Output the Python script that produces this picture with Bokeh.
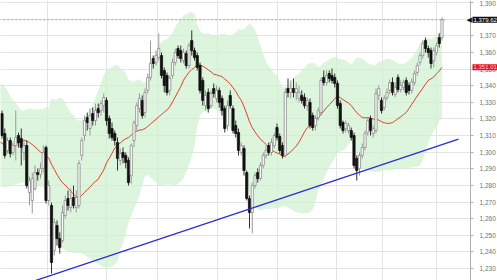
import numpy as np
import pandas as pd
from bokeh.plotting import figure
from bokeh.models import (LinearAxis, SingleIntervalTicker, FixedTicker, NumeralTickFormatter,
                          Grid, Range1d, Label, ColumnDataSource, BoxAnnotation)
from bokeh.embed import file_html
from bokeh.resources import INLINE

# ---- data -------------------------------------------------------------
# closes before the first visible bar (only used by the indicators)
warmup_close = [1326.2, 1325.0, 1331.1, 1333.5, 1328.6, 1323.8, 1326.2, 1323.8, 1307.0, 1296.2,
                1287.7, 1279.9, 1282.9, 1288.9, 1292.0, 1301.0, 1308.2, 1314.2, 1319.0, 1320.2,
                1318.4, 1301.0, 1304.0, 1308.8, 1319.0]

open_ = [
    1323.2, 1311.2, 1301.0, 1307.0, 1299.8, 1304.0, 1310.0, 1308.2, 1299.8, 1304.0,
    1275.7, 1270.9, 1278.1, 1287.7, 1286.5, 1290.2, 1302.8, 1270.9, 1267.9, 1240.8,
    1255.9, 1248.0, 1246.8, 1261.9, 1272.1, 1266.7, 1272.7, 1266.7, 1267.9, 1298.0,
    1310.0, 1320.8, 1314.2, 1323.2, 1319.0, 1326.2, 1325.0, 1328.0, 1331.1, 1320.2,
    1314.2, 1311.2, 1305.8, 1295.0, 1299.8, 1298.0, 1295.0, 1285.9, 1307.0, 1316.0,
    1326.2, 1331.1, 1323.8, 1337.1, 1344.9, 1356.3, 1353.9, 1356.9, 1358.1, 1349.1,
    1346.1, 1337.1, 1346.1, 1353.9, 1362.3, 1361.1, 1355.1, 1359.3, 1352.1, 1367.1,
    1361.1, 1358.1, 1352.1, 1343.1, 1328.0, 1335.9, 1328.0, 1338.3, 1332.3, 1337.1,
    1332.3, 1326.2, 1316.0, 1334.1, 1326.2, 1316.0, 1311.8, 1299.8, 1302.2, 1287.7,
    1272.1, 1263.7, 1279.9, 1287.7, 1284.1, 1292.0, 1298.0, 1304.0, 1299.8, 1304.0,
    1314.8, 1309.4, 1304.0, 1298.0, 1338.3, 1335.9, 1338.3, 1335.9, 1332.3, 1334.1,
    1332.9, 1328.0, 1329.9, 1322.0, 1316.0, 1320.8, 1323.8, 1344.9, 1341.9, 1347.3,
    1346.1, 1344.9, 1341.3, 1329.2, 1317.8, 1314.2, 1313.0, 1313.0, 1310.0, 1296.2,
    1290.2, 1298.0, 1302.8, 1311.8, 1320.2, 1311.2, 1313.0, 1334.1, 1331.1, 1326.8,
    1332.9, 1337.1, 1341.9, 1334.7, 1344.9, 1337.7, 1338.9, 1343.1, 1340.1, 1337.1,
    1341.9, 1347.9, 1353.9, 1358.1, 1367.1, 1362.3, 1361.1, 1355.1, 1359.9, 1368.9,
    1368.9]

high = [
    1325.0, 1314.2, 1308.8, 1308.8, 1305.8, 1325.0, 1311.8, 1314.2, 1307.0, 1307.0,
    1285.3, 1287.7, 1292.0, 1290.2, 1293.8, 1304.0, 1304.0, 1282.9, 1269.7, 1260.1,
    1258.9, 1251.7, 1267.9, 1273.9, 1276.9, 1278.1, 1279.9, 1276.9, 1295.0, 1308.8,
    1322.0, 1323.8, 1326.2, 1326.8, 1329.2, 1329.2, 1331.1, 1335.3, 1332.9, 1322.0,
    1317.8, 1313.0, 1308.8, 1302.2, 1302.8, 1299.8, 1296.8, 1305.2, 1319.0, 1329.9,
    1335.3, 1334.1, 1338.3, 1347.3, 1367.1, 1358.1, 1361.1, 1371.4, 1359.9, 1350.9,
    1347.9, 1346.1, 1356.3, 1362.3, 1364.1, 1364.1, 1362.3, 1361.1, 1365.9, 1373.2,
    1362.9, 1359.9, 1353.9, 1344.9, 1337.1, 1338.3, 1337.1, 1341.3, 1340.1, 1338.9,
    1334.1, 1328.0, 1331.1, 1337.1, 1328.0, 1319.0, 1314.2, 1305.8, 1304.0, 1288.9,
    1273.9, 1281.7, 1287.7, 1290.2, 1293.8, 1299.8, 1304.0, 1305.8, 1308.2, 1311.8,
    1317.2, 1311.2, 1305.8, 1338.3, 1344.3, 1343.1, 1344.3, 1341.9, 1340.1, 1337.1,
    1335.3, 1332.9, 1332.3, 1323.8, 1322.0, 1326.8, 1344.9, 1349.1, 1349.1, 1349.1,
    1350.3, 1347.3, 1343.1, 1331.1, 1319.0, 1319.0, 1317.8, 1314.8, 1311.8, 1298.0,
    1299.8, 1305.2, 1313.0, 1320.8, 1322.0, 1316.0, 1338.3, 1340.1, 1332.9, 1334.1,
    1338.3, 1343.7, 1344.9, 1341.9, 1346.7, 1343.1, 1343.7, 1344.9, 1341.9, 1344.3,
    1349.1, 1353.9, 1359.9, 1367.1, 1368.9, 1364.1, 1362.9, 1362.9, 1365.9, 1371.4,
    1381.0]

low = [
    1308.2, 1296.2, 1299.2, 1296.8, 1298.0, 1295.0, 1302.8, 1292.0, 1295.0, 1278.1,
    1267.9, 1263.1, 1276.9, 1282.9, 1284.1, 1287.7, 1269.1, 1267.9, 1227.0, 1237.8,
    1243.8, 1239.0, 1245.6, 1260.1, 1264.9, 1263.7, 1266.1, 1263.7, 1266.1, 1295.0,
    1307.0, 1313.0, 1310.0, 1316.0, 1316.0, 1320.8, 1322.0, 1323.8, 1316.0, 1308.2,
    1307.0, 1304.0, 1288.9, 1292.0, 1293.2, 1290.2, 1279.9, 1281.1, 1302.8, 1313.0,
    1323.8, 1320.2, 1320.8, 1335.3, 1343.1, 1350.3, 1352.1, 1355.1, 1344.3, 1335.9,
    1334.1, 1334.1, 1344.3, 1352.1, 1356.3, 1353.9, 1353.3, 1350.3, 1350.3, 1358.1,
    1355.1, 1349.1, 1335.3, 1328.0, 1325.0, 1323.8, 1326.2, 1332.9, 1329.9, 1326.8,
    1322.0, 1311.8, 1313.0, 1326.2, 1311.2, 1308.8, 1298.0, 1298.0, 1285.9, 1270.9,
    1254.1, 1251.1, 1278.1, 1281.7, 1282.9, 1290.2, 1296.2, 1298.0, 1298.0, 1302.2,
    1307.0, 1299.2, 1296.2, 1296.8, 1332.9, 1332.3, 1332.9, 1331.1, 1329.9, 1329.2,
    1326.2, 1325.0, 1314.2, 1313.0, 1313.0, 1319.0, 1322.0, 1340.1, 1340.1, 1341.9,
    1341.3, 1338.9, 1326.2, 1314.2, 1311.2, 1311.8, 1311.2, 1307.0, 1290.2, 1282.9,
    1285.9, 1296.2, 1301.0, 1310.0, 1310.0, 1308.8, 1311.2, 1331.1, 1323.2, 1325.0,
    1331.1, 1334.7, 1334.1, 1332.9, 1335.9, 1335.9, 1337.1, 1334.1, 1334.7, 1335.3,
    1340.1, 1346.1, 1352.1, 1356.3, 1359.9, 1356.9, 1350.3, 1350.9, 1358.1, 1362.9,
    1367.1]

close = [
    1310.0, 1298.0, 1307.0, 1299.2, 1304.0, 1308.8, 1305.8, 1302.8, 1304.0, 1279.9,
    1282.9, 1284.1, 1287.7, 1286.5, 1290.2, 1299.8, 1270.9, 1279.9, 1233.6, 1257.7,
    1248.0, 1242.6, 1263.7, 1270.9, 1267.9, 1272.1, 1267.9, 1272.7, 1293.2, 1307.0,
    1319.0, 1317.8, 1322.0, 1319.0, 1325.0, 1323.8, 1329.2, 1332.9, 1319.0, 1311.2,
    1308.8, 1307.0, 1296.2, 1299.2, 1296.8, 1293.8, 1281.7, 1304.0, 1317.8, 1328.0,
    1332.3, 1322.0, 1335.9, 1344.9, 1353.3, 1353.3, 1358.1, 1362.3, 1346.1, 1340.1,
    1335.9, 1344.3, 1353.9, 1359.9, 1358.1, 1356.3, 1359.9, 1352.1, 1364.1, 1361.1,
    1356.9, 1350.9, 1337.1, 1331.1, 1334.1, 1326.2, 1335.3, 1335.3, 1337.1, 1329.9,
    1325.0, 1314.2, 1328.0, 1328.0, 1313.0, 1311.2, 1301.0, 1304.0, 1288.9, 1272.1,
    1263.7, 1279.9, 1285.9, 1284.1, 1292.0, 1298.0, 1301.0, 1299.8, 1305.8, 1310.0,
    1308.8, 1301.0, 1298.0, 1335.9, 1335.9, 1338.3, 1335.9, 1338.3, 1335.9, 1331.1,
    1328.0, 1331.1, 1316.0, 1314.8, 1320.2, 1325.0, 1343.1, 1341.9, 1346.1, 1344.3,
    1343.1, 1341.3, 1328.0, 1316.0, 1313.0, 1317.2, 1316.0, 1308.8, 1292.0, 1288.9,
    1298.0, 1302.8, 1311.2, 1319.0, 1313.0, 1314.2, 1335.3, 1338.3, 1325.0, 1332.3,
    1335.9, 1341.9, 1335.9, 1338.9, 1337.7, 1340.1, 1341.9, 1335.9, 1337.1, 1342.3,
    1347.3, 1352.1, 1358.1, 1365.3, 1362.3, 1359.9, 1353.3, 1361.1, 1364.1, 1365.3,
    1379.62]

# bar numbers at which a new month starts (vertical grid lines)
month_starts = [16.5, 38, 56.5, 78.5, 100, 121.5, 138.5, 158]

# support trend line: (bar number, price) of its two ends
trend_bar = [5, 166]
trend_price = [1218.8, 1307.8]

MA_LEN = 20
BB_LEN = 25
BB_K = 2

# ---- indicators -------------------------------------------------------
n = len(close)
nw = len(warmup_close)
all_close = pd.Series(warmup_close + close, dtype=float)
all_x = np.arange(-nw, n)
ma = all_close.rolling(MA_LEN).mean()
mid = all_close.rolling(BB_LEN).mean()
sd = all_close.rolling(BB_LEN).std(ddof=0)
upper = mid + BB_K * sd
lower = mid - BB_K * sd

band_ok = ~upper.isna()
band_src = ColumnDataSource(dict(x=all_x[band_ok], up=upper[band_ok], lo=lower[band_ok]))
ma_ok = ~ma.isna()
ma_src = ColumnDataSource(dict(x=all_x[ma_ok], y=ma[ma_ok]))

x = np.arange(n)
o = np.array(open_); c = np.array(close); h = np.array(high); l = np.array(low)
up = c >= o
candles = ColumnDataSource(dict(
    x=x, top=np.maximum(o, c), bottom=np.minimum(o, c), high=h, low=l,
    fill=np.where(up, "#ffffff", "#111111"),
    line=np.where(up, "#8a8a8a", "#111111"),
    wick=np.where(up, "#9a9a9a", "#333333"),
))

# ---- figure -----------------------------------------------------------
W, H = 497, 280
PX_PER_BAR = 2.75
AXIS_PX = 470          # price scale sits at this pixel column
x0 = -1.5 / PX_PER_BAR
x1 = (W - 1.5) / PX_PER_BAR
axis_x = (AXIS_PX - 1.5) / PX_PER_BAR

p = figure(width=W, height=H, output_backend="svg", toolbar_location=None,
           x_axis_location=None, y_axis_location=None,
           x_range=Range1d(x0, x1), y_range=Range1d(1222.8, 1391.2),
           min_border=0, background_fill_color="white", border_fill_color="white")
p.outline_line_color = None
p.xgrid.visible = False
p.ygrid.visible = False

p.add_layout(Grid(dimension=1, ticker=SingleIntervalTicker(interval=10),
                  grid_line_color="#e4e4e4", grid_line_width=1), "center")
p.add_layout(Grid(dimension=0, ticker=FixedTicker(ticks=month_starts),
                  grid_line_color="#e4e4e4", grid_line_width=1), "center")
# blank strip behind the price scale (grid stops at the scale)
p.add_layout(BoxAnnotation(left=axis_x, level="underlay", fill_color="white", fill_alpha=1,
                           line_color=None))

yax = LinearAxis(ticker=SingleIntervalTicker(interval=10, num_minor_ticks=0),
                 formatter=NumeralTickFormatter(format="0,0"), fixed_location=axis_x)
yax.axis_line_color = "#b0b0b0"
yax.major_tick_line_color = "#b0b0b0"
yax.major_tick_in = 0
yax.major_tick_out = 3
yax.minor_tick_line_color = None
yax.major_label_standoff = 6
yax.major_label_text_font = "Liberation Sans"
yax.major_label_text_font_size = "6.5px"
yax.major_label_text_color = "#707070"
p.add_layout(yax, "right")

p.varea(x="x", y1="lo", y2="up", source=band_src, fill_color="#cdf1cd", fill_alpha=0.7)

last = close[-1]
p.line([-1, n + 0.6], [last, last], line_color="#e68a8a", line_width=1, line_dash="2 2")

p.line("x", "y", source=ma_src, line_color="#e0402a", line_width=1)

p.segment(x0="x", y0="high", x1="x", y1="low", source=candles, line_color="wick", line_width=1)
p.vbar(x="x", width=0.8, top="top", bottom="bottom", source=candles,
       fill_color="fill", line_color="line", line_width=0.8)

p.line(trend_bar, trend_price, line_color="#2c2cd4", line_width=1.3)

p.add_layout(Label(x=466, y=last, x_units="screen", y_units="data", text="◀",
                   text_font="DejaVu Sans", text_font_size="7px", text_color="#111111",
                   text_baseline="middle", text_align="left"))
p.add_layout(Label(x=472, y=last, x_units="screen", y_units="data",
                   text=f"{last:,.2f}", text_font="Liberation Sans", text_font_size="6px",
                   text_color="white", text_baseline="middle", text_align="left",
                   background_fill_color="#111111", padding=1))
p.add_layout(Label(x=472, y=float(ma.iloc[-1]), x_units="screen", y_units="data",
                   text=f"{ma.iloc[-1]:,.2f}", text_font="Liberation Sans", text_font_size="6px",
                   text_color="#ffd6d6", text_baseline="middle", text_align="left",
                   background_fill_color="#e8141a", padding=1))

open("out.html", "w").write(file_html(p, INLINE))
